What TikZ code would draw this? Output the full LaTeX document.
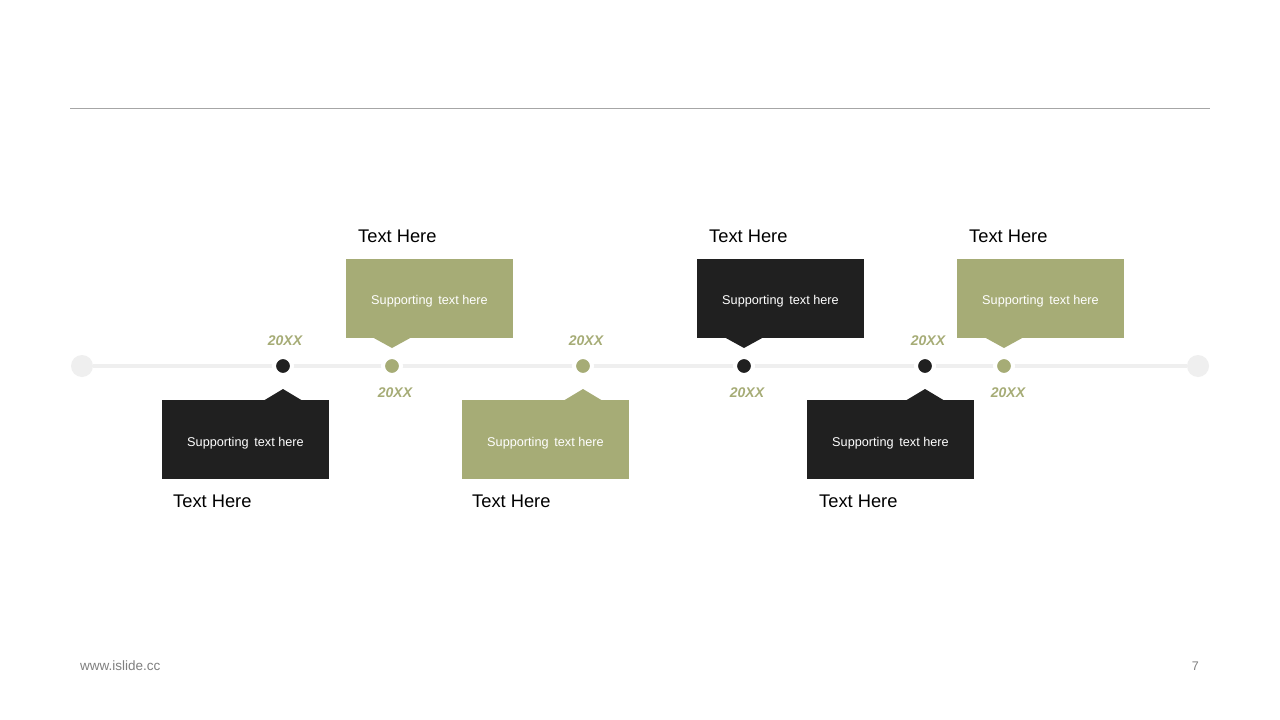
\documentclass[tikz,border=0pt]{standalone}
\usepackage{fontspec}
\setmainfont{Liberation Sans}
\definecolor{olive}{HTML}{A6AC76}
\definecolor{dark}{HTML}{202020}
\definecolor{track}{HTML}{EFEFEF}
\definecolor{rule}{HTML}{A6A6A6}
\definecolor{foot}{HTML}{7F7F7F}
\newcommand{\suptxt}{\raisebox{-3.5pt}[\height][\depth]{Supporting\hspace{0.45em}text here}}
\begin{document}
\begin{tikzpicture}[x=1pt,y=-1pt,
  dot/.style={circle,draw=white,line width=4pt,minimum size=18pt,inner sep=0pt,fill=#1},
  endcap/.style={circle,fill=track,minimum size=22pt,inner sep=0pt},
  card/.style={rectangle,fill=#1,minimum width=167pt,minimum height=79pt,inner sep=0pt,
    text=white,font=\fontsize{12.7}{14}\selectfont},
  yearlbl/.style={text=olive,font=\fontsize{14}{16}\selectfont\bfseries\itshape,inner sep=0pt},
  title/.style={anchor=west,font=\fontsize{18.3}{20}\selectfont,text=black,inner sep=0pt},
]
\useasboundingbox (0,0) rectangle (1280,720);
\fill[white] (0,0) rectangle (1280,720);
% top rule
\coordinate (r1) at (70,108);
\coordinate (r2) at (1210,108);
\draw[rule,line width=1pt] (r1) -- (r2);
% track
\node[endcap] (e1) at (82,366) {};
\node[endcap] (e2) at (1198,366) {};
\draw[track,line width=4pt] (e1) -- (e2);
% dots
\node[dot=dark]  (d1) at (283,366) {};
\node[dot=olive] (d2) at (392,366) {};
\node[dot=olive] (d3) at (583,366) {};
\node[dot=dark]  (d4) at (744,366) {};
\node[dot=dark]  (d5) at (925,366) {};
\node[dot=olive] (d6) at (1004,366) {};
% year labels
\node[yearlbl] (y1) at (285,341) {20XX};
\node[yearlbl] (y2) at (395,393) {20XX};
\node[yearlbl] (y3) at (586,341) {20XX};
\node[yearlbl] (y4) at (747,393) {20XX};
\node[yearlbl] (y5) at (928,341) {20XX};
\node[yearlbl] (y6) at (1008,393) {20XX};
% cards below
\node[card=dark]  (b1) at (245.5,439.5) {\suptxt};
\fill[dark] (263,401) -- (283,389) -- (303,401) -- cycle;
\node[card=olive] (b3) at (545.5,439.5) {\suptxt};
\fill[olive] (563,401) -- (583,389) -- (603,401) -- cycle;
\node[card=dark]  (b5) at (890.5,439.5) {\suptxt};
\fill[dark] (905,401) -- (925,389) -- (945,401) -- cycle;
% cards above
\node[card=olive] (b2) at (429.5,298) {\suptxt};
\fill[olive] (372,337) -- (392,348) -- (412,337) -- cycle;
\node[card=dark]  (b4) at (780.5,298) {\suptxt};
\fill[dark] (724,337) -- (744,348) -- (764,337) -- cycle;
\node[card=olive] (b6) at (1040.5,298) {\suptxt};
\fill[olive] (984,337) -- (1004,348) -- (1024,337) -- cycle;
% titles
\node[title] (t2) at (358,236) {Text Here};
\node[title] (t4) at (709,236) {Text Here};
\node[title] (t6) at (969,236) {Text Here};
\node[title] (t1) at (173,501) {Text Here};
\node[title] (t3) at (472,501) {Text Here};
\node[title] (t5) at (819,501) {Text Here};
% footer
\node[anchor=west,inner sep=0pt,text=foot,font=\fontsize{13.5}{15}\selectfont] (f1) at (80,666) {www.islide.cc};
\node[anchor=east,inner sep=0pt,text=foot,font=\fontsize{12.5}{15}\selectfont] (f2) at (1199,666) {7};
\end{tikzpicture}
\end{document}
